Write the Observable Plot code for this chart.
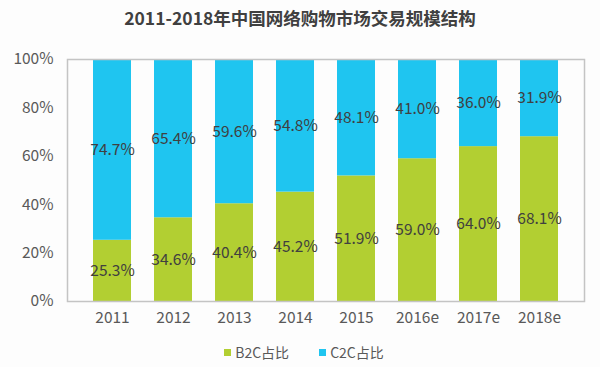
<!DOCTYPE html>
<html>
<head>
<meta charset="utf-8">
<script src="https://cdn.jsdelivr.net/npm/d3@7"></script>
<script src="https://cdn.jsdelivr.net/npm/@observablehq/plot@0.6"></script>
<style>
  body { margin: 0; background: #fdfdfd; font-family: "Noto Sans CJK SC", "Noto Sans", sans-serif; }
  #wrap { width: 600px; height: 367px; position: relative; }
  #title { height: 40px; line-height: 36px; text-align: center; font-size: 17.5px; font-weight: bold; color: #404040; }
  #legend { display: flex; justify-content: center; gap: 30px; font-size: 14px; color: #595959; margin-top: 7px; padding-left: 8px; }
  .item { display: flex; align-items: center; gap: 4px; }
  .sw { width: 7px; height: 7px; display: inline-block; }
</style>
</head>
<body>
<div id="wrap">
  <div id="title">2011-2018年中国网络购物市场交易规模结构</div>
  <div id="chart"></div>
  <div id="legend"></div>
</div>
<script>
const years = ["2011", "2012", "2013", "2014", "2015", "2016e", "2017e", "2018e"];
const b2c = [25.3, 34.6, 40.4, 45.2, 51.9, 59.0, 64.0, 68.1];
const c2c = [74.7, 65.4, 59.6, 54.8, 48.1, 41.0, 36.0, 31.9];
const seriesNames = ["B2C占比", "C2C占比"];
const seriesColors = ["#b2cf32", "#1fc5f0"];
const yTicks = [0, 20, 40, 60, 80, 100];

const data = [];
years.forEach((y, i) => {
  data.push({year: y, type: seriesNames[0], value: b2c[i]});
  data.push({year: y, type: seriesNames[1], value: c2c[i]});
});

const chart = Plot.plot({
  width: 600,
  height: 295,
  marginTop: 19,
  marginBottom: 34,
  marginLeft: 67,
  marginRight: 16,
  style: { fontFamily: "'Noto Sans CJK SC', 'Noto Sans', sans-serif", background: "transparent" },
  x: { domain: years, padding: 0.38, label: null, tickSize: 0, tickPadding: 10 },
  y: { domain: [0, 100], ticks: yTicks, tickFormat: d => d + "%", label: null, tickSize: 0, tickPadding: 14 },
  color: { domain: seriesNames, range: seriesColors },
  marks: [
    Plot.barY(data, { x: "year", y: "value", fill: "type", order: seriesNames }),
    Plot.text(data, Plot.stackY({ x: "year", y: "value", z: "type", order: seriesNames, text: d => d.value.toFixed(1) + "%", fill: "#404040", fontSize: 15.5 })),
    Plot.frame({ stroke: "#c4c4c4", strokeWidth: 1.5 }),
    Plot.axisX({ tickSize: 0, tickPadding: 10, fontSize: 15.5, fill: "#595959" }),
    Plot.axisY({ ticks: yTicks, tickFormat: d => d + "%", tickSize: 0, tickPadding: 14, fontSize: 15.5, fill: "#595959" })
  ]
});
document.getElementById("chart").appendChild(chart);

const legend = document.getElementById("legend");
seriesNames.forEach((n, i) => {
  const it = document.createElement("div");
  it.className = "item";
  it.innerHTML = `<span class="sw" style="background:${seriesColors[i]}"></span><span>${n}</span>`;
  legend.appendChild(it);
});
</script>
</body>
</html>
